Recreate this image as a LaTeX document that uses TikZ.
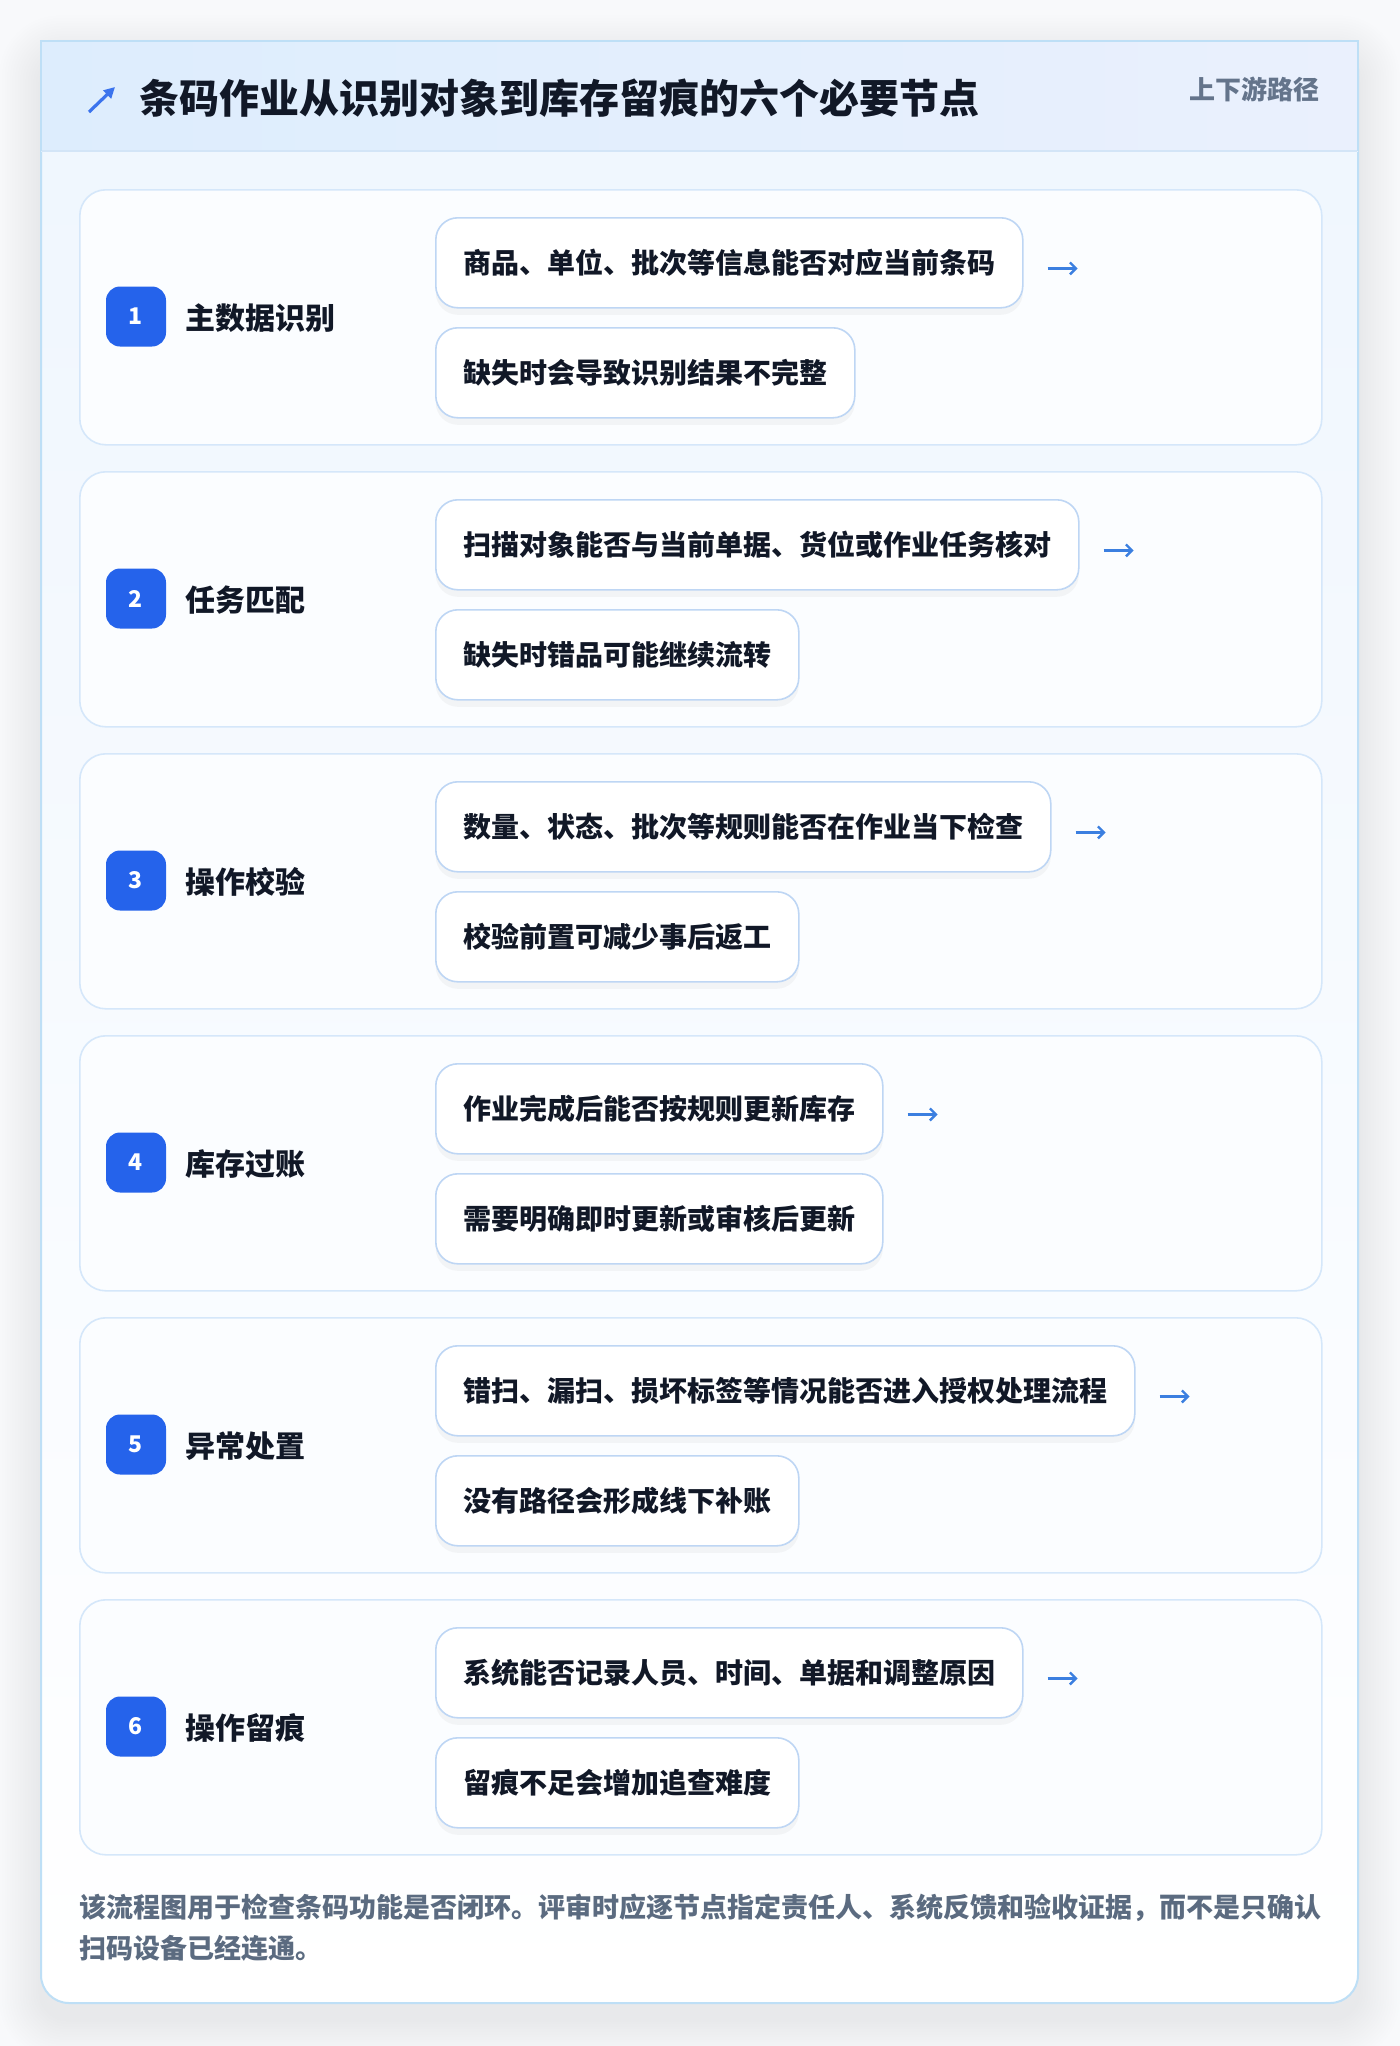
\documentclass[tikz,border=0pt]{standalone}
\usepackage{fontspec}
\setmainfont{Noto Sans CJK SC}
\usetikzlibrary{arrows.meta,calc,shadows}
\definecolor{pagebg}{HTML}{F8F9FB}
\definecolor{cardborder}{HTML}{BEDFF6}
\definecolor{hdrL}{HTML}{DDEDFD}
\definecolor{hdrR}{HTML}{EAF0FD}
\definecolor{divider}{HTML}{D3E5F7}
\definecolor{bodytop}{HTML}{EFF6FE}
\definecolor{stepfill}{HTML}{FBFDFF}
\definecolor{stepborder}{HTML}{D5E7FA}
\definecolor{boxborder}{HTML}{BED6F4}
\definecolor{badgeblue}{HTML}{2563EB}
\definecolor{inkc}{HTML}{111827}
\definecolor{mutedc}{HTML}{64748B}
\definecolor{footc}{HTML}{5B6B80}
\definecolor{arrowc}{HTML}{3B7FE0}
\newcommand\fsz[2]{\fontsize{#1}{#2}\selectfont}
\tikzset{
  stepcard/.style={anchor=north west, minimum width=1242pt, minimum height=255pt,
    rounded corners=26pt, fill=stepfill, draw=stepborder, line width=1.6pt, inner sep=0pt},
  badge/.style={minimum width=60pt, minimum height=60pt, rounded corners=14pt,
    fill=badgeblue, text=white, inner sep=0pt, font=\fsz{23}{23}\bfseries},
  steplabel/.style={anchor=base west, inner sep=0pt, text=inkc, font=\fsz{30}{30}\bfseries},
  infobox/.style={anchor=north west, minimum height=90pt, inner xsep=27.5pt, inner ysep=0pt,
    rounded corners=22pt, fill=white, draw=boxborder, line width=1.6pt,
    text=inkc, font=\fsz{28}{28}\bfseries,
    drop shadow={shadow xshift=0pt, shadow yshift=-7pt, opacity=0.035, fill=black}},
  flowarrow/.style={draw=arrowc, line width=2.6pt, -{Straight Barb[length=6pt,width=12pt,line width=2.4pt]}},
  titletext/.style={anchor=base west, inner sep=0pt, text=inkc, font=\fsz{40}{40}\bfseries},
  tagtext/.style={anchor=base east, inner sep=0pt, text=mutedc, font=\fsz{26}{26}\bfseries},
  foottext/.style={anchor=base west, inner sep=0pt, text=footc, font=\fsz{27}{27}\bfseries},
}
\newcommand\stepblock[4]{%
  \pgfmathsetmacro\T{189+282*(#1-1)}%
  \node[stepcard] (c#1) at (79,\T) {};
  \node[badge] (b#1) at (136,{\T+127.5}) {#1};
  \node[steplabel] (l#1) at (185,{\T+140}) {#2};
  \node[infobox] (u#1) at (435,{\T+28}) {#3};
  \node[infobox] (d#1) at (435,{\T+138}) {#4};
  \coordinate (as#1) at ($(u#1.east)+(24,5.6)$);
  \coordinate (ae#1) at ($(as#1)+(30,0)$);
  \draw[flowarrow] (as#1) -- (ae#1);
}
\begin{document}
\begin{tikzpicture}[x=1pt,y=-1pt]
\useasboundingbox (0,0) rectangle (1400,2046);
\fill[pagebg] (0,0) rectangle (1400,2046);
% soft shadow of the main card
\foreach \k in {1,...,16} {
  \fill[black, opacity=0.0045, rounded corners={28+\k*2}]
    ({41-\k*2.6},{41-\k*2.6+16}) rectangle ({1358+\k*2.6},{2003+\k*2.6+16});
}
% main card
\shade[top color=bodytop, bottom color=white, rounded corners=28pt]
  (41,41) rectangle (1358,2003);
\draw[cardborder, line width=2pt, rounded corners=28pt] (41,41) rectangle (1358,2003);
% header
\shade[left color=hdrL, right color=hdrR] (41,41) rectangle (1358,151);
\draw[cardborder, line width=2pt] (41,151) -- (41,41) -- (1358,41) -- (1358,151);
\draw[divider, line width=2pt] (42,151) -- (1357,151);
\coordinate (icA) at (89,112);
\coordinate (icB) at (115,87);
\draw[draw=badgeblue!90!white, line width=3.2pt, -{Triangle[length=11pt,width=11pt]}] (icA) -- (icB);
\node[titletext] (title) at (139.5,113.7) {条码作业从识别对象到库存留痕的六个必要节点};
\node[tagtext] (tag) at (1319.5,99.4) {上下游路径};
% steps
\stepblock{1}{主数据识别}{商品、单位、批次等信息能否对应当前条码}{缺失时会导致识别结果不完整}
\stepblock{2}{任务匹配}{扫描对象能否与当前单据、货位或作业任务核对}{缺失时错品可能继续流转}
\stepblock{3}{操作校验}{数量、状态、批次等规则能否在作业当下检查}{校验前置可减少事后返工}
\stepblock{4}{库存过账}{作业完成后能否按规则更新库存}{需要明确即时更新或审核后更新}
\stepblock{5}{异常处置}{错扫、漏扫、损坏标签等情况能否进入授权处理流程}{没有路径会形成线下补账}
\stepblock{6}{操作留痕}{系统能否记录人员、时间、单据和调整原因}{留痕不足会增加追查难度}
% footer
\node[foottext] (f1) at (79,1917.5) {该流程图用于检查条码功能是否闭环。评审时应逐节点指定责任人、系统反馈和验收证据，而不是只确认};
\node[foottext] (f2) at (79,1958.5) {扫码设备已经连通。};
\end{tikzpicture}
\end{document}
